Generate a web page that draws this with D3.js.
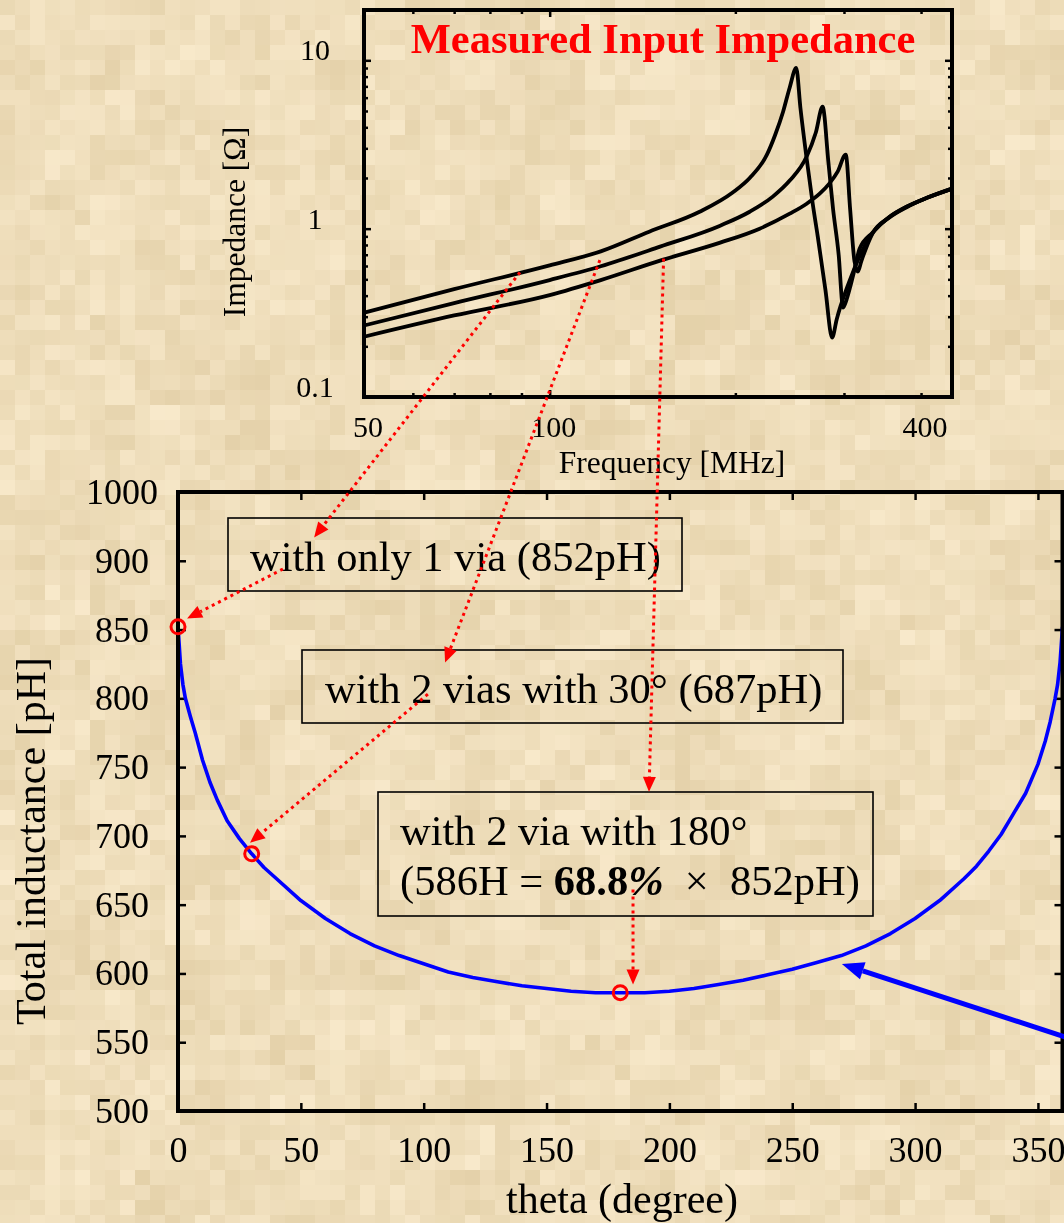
<!DOCTYPE html>
<html>
<head>
<meta charset="utf-8">
<script src="https://d3js.org/d3.v7.min.js"></script>
<style>
  body { margin: 0; background: #ecd9b6; }
  #bg { position: absolute; left: 0; top: 0; }
  #chart { position: absolute; left: 0; top: 0; }
  text { font-family: "Liberation Serif", "Times New Roman", serif; fill: #000; }
</style>
</head>
<body>
<canvas id="bg" width="1064" height="1223"></canvas>
<div id="chart"></div>
<script>
// ---- main chart data: total inductance vs theta ----
var theta = [0, 1, 2, 3, 5, 7, 10, 13, 16, 20, 25, 30, 35, 40, 50, 60, 70, 80, 90, 100,
             110, 120, 130, 140, 150, 160, 170, 180, 190, 200, 210, 220, 230, 240, 250,
             260, 270, 280, 290, 300, 310, 320, 325, 330, 335, 340, 345, 350, 353, 355,
             357, 358, 359, 360];
var inductance = [852, 825, 810, 800, 787, 775, 755, 739, 726, 711, 698, 687, 677, 669, 653,
                  640, 629, 620, 613, 607, 601, 597, 594, 591, 589, 587, 586, 586, 586, 587,
                  589, 592, 595, 599, 603, 608, 613, 620, 629, 640, 653, 669, 678, 689, 701,
                  716, 731, 752, 769, 783, 800, 810, 826, 852];
var markTheta = [0, 30, 180];
var markL = [852, 687, 586];
var thetaTicks = [0, 50, 100, 150, 200, 250, 300, 350];
var lTicks = [500, 550, 600, 650, 700, 750, 800, 850, 900, 950];

// ---- inset data: measured input impedance (MHz, ohm) ----
// 1 via
var freqA = [50, 70, 100, 121, 145, 175, 198, 211, 225, 232, 239, 245, 251, 255, 261, 267,
             272, 280, 287, 292, 296, 303, 310, 320, 334, 355, 379, 410, 449];
var zA = [0.317, 0.437, 0.605, 0.733, 0.96, 1.26, 1.64, 2.0, 2.75, 3.6, 4.95, 6.9, 9.0, 5.2,
          2.6, 1.4, 0.9, 0.43, 0.225, 0.29, 0.344, 0.44, 0.548, 0.72, 0.947, 1.17, 1.35,
          1.53, 1.72];
// 2 vias, 30 deg
var freqB = [50, 70, 100, 121, 151, 189, 211, 230, 245, 261, 270, 277, 283, 288, 294, 299,
             303, 307, 312, 318, 334, 355, 379, 410, 449];
var zB = [0.266, 0.361, 0.495, 0.598, 0.782, 1.042, 1.26, 1.55, 1.93, 2.68, 3.71, 5.3, 2.5,
          1.31, 0.71, 0.34, 0.38, 0.45, 0.57, 0.76, 0.95, 1.17, 1.35, 1.53, 1.73];
// 2 vias, 180 deg
var freqC = [50, 70, 100, 121, 151, 189, 219, 245, 261, 274, 284, 293, 302, 307, 312, 316,
             320, 326, 334, 355, 379, 410, 449];
var zC = [0.228, 0.305, 0.403, 0.495, 0.646, 0.826, 1.0, 1.227, 1.407, 1.613, 1.85, 2.18,
          2.75, 1.3, 0.64, 0.555, 0.64, 0.77, 0.94, 1.16, 1.34, 1.53, 1.73];
var freqLabels = [50, 100, 400];
var freqMinor = [60, 70, 80, 90, 200, 300, 400];
var zLabels = [0.1, 1, 10];
var zMinor = [0.2, 0.3, 0.4, 0.5, 0.6, 0.7, 0.8, 0.9, 2, 3, 4, 5, 6, 7, 8, 9];

// ---- parchment background ----
var ctx = document.getElementById("bg").getContext("2d");
var cell = 15;
function noise(i, j) {
    var h = Math.sin(i * 127.1 + j * 311.7) * 43758.5453;
    return h - Math.floor(h);
}
for (var i = 0; i * cell < 1064; i++) {
    for (var j = 0; j * cell < 1223; j++) {
        var n = noise(i, j) - 0.5;
        var m = noise(Math.floor(i / 3) + 50, Math.floor(j / 3) + 17) - 0.5;
        var r = Math.round(238 + n * 12 + m * 9);
        var g = Math.round(221 + n * 14 + m * 11);
        var b = Math.round(186 + n * 20 + m * 15);
        ctx.fillStyle = "rgb(" + r + "," + g + "," + b + ")";
        ctx.fillRect(i * cell, j * cell, cell, cell);
    }
}

var svg = d3.select("#chart")
    .append("svg")
    .attr("width", 1064)
    .attr("height", 1223);

// ================= inset chart =================
var inset = { left: 364, right: 952, top: 10, bottom: 397 };
var xIn = d3.scaleLog().domain([50, 449]).range([inset.left, inset.right]);
var yIn = d3.scaleLog().domain([0.1, 19.9]).range([inset.bottom, inset.top]);

var insetGroup = svg.append("g");

function tickAxis(group, axis, transform) {
    var a = group.append("g").attr("transform", transform).call(axis);
    a.select(".domain").remove();
    a.attr("font-family", null);
    a.selectAll("line").attr("stroke", "#000").attr("stroke-width", 2.5);
    return a;
}

// minor / major ticks, all inward
tickAxis(insetGroup, d3.axisBottom(xIn).tickValues(freqMinor).tickSize(-4).tickFormat(""),
    `translate(0,${inset.bottom})`);
tickAxis(insetGroup, d3.axisBottom(xIn).tickValues([100]).tickSize(-7).tickFormat(""),
    `translate(0,${inset.bottom})`);
tickAxis(insetGroup, d3.axisTop(xIn).tickValues(freqMinor).tickSize(-4).tickFormat(""),
    `translate(0,${inset.top})`);
tickAxis(insetGroup, d3.axisTop(xIn).tickValues([100]).tickSize(-7).tickFormat(""),
    `translate(0,${inset.top})`);
tickAxis(insetGroup, d3.axisLeft(yIn).tickValues(zMinor).tickSize(-4).tickFormat(""),
    `translate(${inset.left},0)`);
tickAxis(insetGroup, d3.axisLeft(yIn).tickValues([1, 10]).tickSize(-7).tickFormat(""),
    `translate(${inset.left},0)`);
tickAxis(insetGroup, d3.axisRight(yIn).tickValues(zMinor).tickSize(-4).tickFormat(""),
    `translate(${inset.right},0)`);
tickAxis(insetGroup, d3.axisRight(yIn).tickValues([1, 10]).tickSize(-7).tickFormat(""),
    `translate(${inset.right},0)`);

// tick labels
insetGroup.selectAll(".xin-label")
    .data(freqLabels)
    .enter()
    .append("text")
    .attr("x", d => xIn(d) + 4)
    .attr("y", 437)
    .attr("text-anchor", "middle")
    .attr("font-size", 30)
    .text(d => d);

insetGroup.selectAll(".yin-label")
    .data(zLabels)
    .enter()
    .append("text")
    .attr("x", 315)
    .attr("y", d => yIn(d))
    .attr("text-anchor", "middle")
    .attr("font-size", 30)
    .text(d => d);

// curves
var lineIn = d3.line()
    .x(d => xIn(d[0]))
    .y(d => yIn(d[1]))
    .curve(d3.curveMonotoneX);

[[freqA, zA], [freqB, zB], [freqC, zC]].forEach(function(s) {
    insetGroup.append("path")
        .datum(d3.zip(s[0], s[1]))
        .attr("d", lineIn)
        .attr("fill", "none")
        .attr("stroke", "#000")
        .attr("stroke-width", 3.8)
        .attr("stroke-linejoin", "round");
});

// frame
insetGroup.append("rect")
    .attr("x", inset.left)
    .attr("y", inset.top)
    .attr("width", inset.right - inset.left)
    .attr("height", inset.bottom - inset.top)
    .attr("fill", "none")
    .attr("stroke", "#000")
    .attr("stroke-width", 4);

insetGroup.append("text")
    .attr("x", 663)
    .attr("y", 53)
    .attr("text-anchor", "middle")
    .attr("font-size", 42.5)
    .attr("font-weight", "bold")
    .style("fill", "#ff0000")
    .text("Measured Input Impedance");

insetGroup.append("text")
    .attr("x", 672)
    .attr("y", 473)
    .attr("text-anchor", "middle")
    .attr("font-size", 31.5)
    .text("Frequency [MHz]");

insetGroup.append("text")
    .attr("transform", "translate(245,222) rotate(-90)")
    .attr("text-anchor", "middle")
    .attr("font-size", 31.5)
    .text("Impedance [\u03a9]");

// ================= main chart =================
var main = { left: 178, right: 1062.5, top: 492, bottom: 1111 };
var xMain = d3.scaleLinear().domain([0, 360]).range([main.left, main.right]);
var yMain = d3.scaleLinear().domain([500, 950]).range([main.bottom, main.top]);

var mainGroup = svg.append("g");

var xAxis = tickAxis(mainGroup,
    d3.axisBottom(xMain).tickValues(thetaTicks).tickSize(-8).tickPadding(25),
    `translate(0,${main.bottom})`);
xAxis.selectAll("text").attr("font-size", 36);

tickAxis(mainGroup, d3.axisTop(xMain).tickValues(thetaTicks).tickSize(-8).tickFormat(""),
    `translate(0,${main.top})`);

var yAxis = tickAxis(mainGroup,
    d3.axisLeft(yMain).tickValues(lTicks).tickSize(-8)
        .tickFormat(d => d === 950 ? "1000" : d),
    `translate(${main.left},0)`);
yAxis.selectAll("text")
    .attr("font-size", 36)
    .attr("text-anchor", "middle")
    .attr("x", 122 - main.left);

tickAxis(mainGroup, d3.axisRight(yMain).tickValues(lTicks).tickSize(-8).tickFormat(""),
    `translate(${main.right},0)`);

// axis titles
mainGroup.append("text")
    .attr("x", 622)
    .attr("y", 1213)
    .attr("text-anchor", "middle")
    .attr("font-size", 42)
    .text("theta (degree)");

mainGroup.append("text")
    .attr("transform", "translate(45,841) rotate(-90)")
    .attr("text-anchor", "middle")
    .attr("font-size", 42)
    .text("Total inductance [pH]");

// inductance curve
var lineMain = d3.line()
    .x(d => xMain(d[0]))
    .y(d => yMain(d[1]));

mainGroup.append("path")
    .datum(d3.zip(theta, inductance))
    .attr("d", lineMain)
    .attr("fill", "none")
    .attr("stroke", "#0000ff")
    .attr("stroke-width", 3.6)
    .attr("stroke-linejoin", "round");

// frame
mainGroup.append("rect")
    .attr("x", main.left)
    .attr("y", main.top)
    .attr("width", main.right - main.left)
    .attr("height", main.bottom - main.top)
    .attr("fill", "none")
    .attr("stroke", "#000")
    .attr("stroke-width", 4);

// marked points
mainGroup.selectAll(".mark")
    .data(d3.zip(markTheta, markL))
    .enter()
    .append("circle")
    .attr("cx", d => xMain(d[0]))
    .attr("cy", d => yMain(d[1]))
    .attr("r", 7)
    .attr("fill", "none")
    .attr("stroke", "#ff0000")
    .attr("stroke-width", 3);

// ---- annotation boxes ----
var annoGroup = svg.append("g");

function box(x0, y0, x1, y1) {
    annoGroup.append("rect")
        .attr("x", x0).attr("y", y0)
        .attr("width", x1 - x0).attr("height", y1 - y0)
        .attr("fill", "none")
        .attr("stroke", "#000")
        .attr("stroke-width", 1.6);
}

box(228, 518, 682, 591);
annoGroup.append("text").attr("x", 250).attr("y", 571).attr("font-size", 42.5)
    .text("with only 1 via (852pH)");

box(302, 650, 843, 723);
annoGroup.append("text").attr("x", 325).attr("y", 703).attr("font-size", 42.5)
    .text("with 2 vias with 30\u00b0 (687pH)");

box(378, 792, 873, 916);
annoGroup.append("text").attr("x", 400).attr("y", 845).attr("font-size", 42.5)
    .text("with 2 via with 180\u00b0");
var line2 = annoGroup.append("text").attr("x", 400).attr("y", 895).attr("font-size", 42.5)
    .attr("xml:space", "preserve");
line2.append("tspan").text("(586H = ");
line2.append("tspan").attr("font-weight", "bold").text("68.8");
line2.append("tspan").attr("font-weight", "bold").attr("font-style", "italic").text("%");
line2.append("tspan").text("  \u00d7  852pH)");

// ---- arrows ----
function pt(p) {
    return p[0] === "in" ? [xIn(p[1]), yIn(p[2])] : [xMain(p[1]), yMain(p[2])];
}

function drawArrow(p0, p1, color, width, dash, head, half) {
    var dx = p1[0] - p0[0], dy = p1[1] - p0[1];
    var len = Math.sqrt(dx * dx + dy * dy);
    var ux = dx / len, uy = dy / len;
    var bx = p1[0] - ux * head, by = p1[1] - uy * head;
    annoGroup.append("line")
        .attr("x1", p0[0]).attr("y1", p0[1])
        .attr("x2", bx).attr("y2", by)
        .attr("stroke", color)
        .attr("stroke-width", width)
        .attr("stroke-dasharray", dash);
    annoGroup.append("path")
        .attr("d", `M${p1[0]},${p1[1]}L${bx - uy * half},${by + ux * half}L${bx + uy * half},${by - ux * half}Z`)
        .attr("fill", color);
}

var redArrows = [
    [["in", 89.5, 0.55], ["main", 55.4, 917]],
    [["main", 42.7, 894], ["main", 3.7, 858]],
    [["in", 120.6, 0.65], ["main", 108.7, 826]],
    [["main", 101.7, 803], ["main", 29.3, 695]],
    [["in", 153, 0.664], ["main", 191.7, 732]],
    [["main", 185.2, 661], ["main", 185.2, 592]]
];

redArrows.forEach(function(a) {
    drawArrow(pt(a[0]), pt(a[1]), "#ff0000", 3, "3,4", 15, 6.5);
});

// blue pointer to the curve
drawArrow(pt(["main", 383.4, 540.7]), pt(["main", 270.2, 606.9]), "#0000ff", 5, null, 22, 9);
</script>
</body>
</html>
